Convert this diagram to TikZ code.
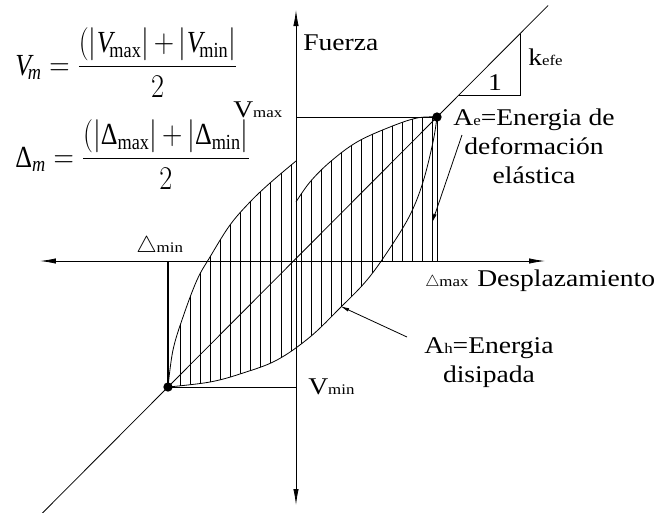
\documentclass[tikz,border=0pt]{standalone}
\usepackage{fontspec}
\usepackage{amsmath}
\usepackage{graphicx}
\setmainfont{Liberation Serif}
\newfontfamily\cadfont[FakeStretch=1.15]{Liberation Serif}
\usetikzlibrary{positioning, arrows.meta, calc}
\tikzset{
  ln/.style={line width=0.6pt},
  ax/.style={{Latex[length=12pt,width=4pt]}-{Latex[length=12pt,width=4pt]}, line width=0.6pt},
  lead/.style={-{Latex[length=7pt,width=2.6pt]}, line width=0.6pt},
  hatch/.style={line width=0.6pt},
  dot/.style={circle, fill, inner sep=0pt, minimum size=7pt},
  lbl/.style={font=\cadfont\fontsize{18}{21.75}\selectfont, inner sep=0pt},
  eq/.style={font=\fontsize{23}{27}\selectfont, inner sep=0pt}
}
\newcommand{\subtxt}[1]{{\fontsize{11}{11}\selectfont #1}}
\newcommand{\narrow}[1]{\scalebox{0.85}[1]{#1}}
% curve pieces of the loop (px units, origin at the axes)
\newcommand{\upperleft}{-- plot[smooth, tension=0.6] coordinates {(-128,-126) (-123,-89) (-113,-56) (-99,-19) (-86,4) (-66,36) (-46,59) (-26,78) (0,100)}}
\newcommand{\upperright}{-- plot[smooth, tension=0.6] coordinates {(0,59) (14,79) (34,99) (61,119) (94,134) (121,143) (141,144)}}
\newcommand{\lowercurve}{-- plot[smooth, tension=0.6] coordinates {(-128,-126) (-86,-121) (-53,-112) (-19,-99) (14,-76) (44,-47) (71,-19) (94,13) (114,46) (127,79) (137,119) (141,144)}}

\begin{document}
\begin{tikzpicture}[x=0.75pt, y=0.75pt]
  \useasboundingbox (-296,-251) rectangle (365,261);

  % ----- Key points -----
  \coordinate (O) at (0,0);
  \coordinate (pmin) at (-128,-126);
  \coordinate (pmax) at (141,144);
  \coordinate (vmaxft) at (0,144);
  \coordinate (vminft) at (0,-126);
  \coordinate (dminft) at (-128,0);
  \coordinate (dmaxft) at (141,0);

  % ----- Axes -----
  \coordinate (xl) at (-256,0);
  \coordinate (xr) at (249,0);
  \coordinate (yb) at (0,-244);
  \coordinate (yt) at (0,251);
  \draw[ax] (xl) -- (xr);
  \draw[ax] (yb) -- (yt);

  % ----- Hatching of the loop -----
  \begin{scope}
    \clip (-128,-200) \upperleft \upperright -- (141,-200) -- cycle;
    \begin{scope}
      \clip (-128,200) \lowercurve -- (141,200) -- cycle;
      \foreach \k in {0,...,25}
        \draw[hatch] ({-116+10.1*\k},-200) -- ++(0,400);
    \end{scope}
    \begin{scope}
      \clip (0,0) rectangle (141,200);
      \foreach \k in {0,...,25}
        \draw[hatch] ({-116+10.1*\k},-200) -- ++(0,400);
    \end{scope}
  \end{scope}

  % ----- Loop curves -----
  \draw[ln] (pmin) \upperleft;
  \draw[ln] (0,59) \upperright;
  \draw[ln] (pmin) \lowercurve;

  % ----- Secant (k_efe) -----
  \coordinate (dlo) at ($(pmin)!-0.476!(pmax)$);
  \coordinate (dhi) at ($(pmin)!1.413!(pmax)$);
  \draw[ln] (dlo) -- (dhi);

  % ----- Limits -----
  \draw[ln] (pmax) -- (vmaxft);
  \draw[ln] (pmax) -- (dmaxft);
  \draw[ln] (pmin) -- (vminft);
  \draw[line width=0.9pt] (pmin) -- (dminft);
  \node[dot] (dmax) at (pmax) {};
  \node[dot] (dmin) at (pmin) {};

  % ----- Slope triangle -----
  \coordinate (ka) at (163,166);
  \coordinate (kb) at (224,166);
  \coordinate (kc) at (224,227);
  \draw[ln] (ka) -- (kb) -- (kc);
  \node[lbl, anchor=base] (one) at (199,171) {1};
  \node[lbl, anchor=base west] (kefe) at (232,196) {k\subtxt{efe}};

  % ----- Axis labels -----
  \node[lbl, anchor=base west] (fuerza) at (7,211) {Fuerza};
  \node[lbl, anchor=base west] (desp) at (181,-25) {Desplazamiento};
  \node[lbl, anchor=base west] (vmax) at (-63,144) {V\subtxt{max}};
  \node[lbl, anchor=base west] (vmin) at (12,-133) {V\subtxt{min}};
  \node[lbl, anchor=base west] (dminlbl) at (-160,9) {$\triangle$\subtxt{min}};
  \node[lbl, anchor=base west] (dmaxlbl) at (129,-25)
    {{\fontsize{13}{13}\selectfont$\triangle$}\subtxt{max}};

  % ----- Energy labels -----
  \node[lbl, anchor=north, align=center] (ae) at (238,152)
    {A\subtxt{e}=Energia de\\deformación\\elástica};
  \node[lbl, anchor=north, align=center] (ah) at (193,-76)
    {A\subtxt{h}=Energia\\disipada};
  \coordinate (aefoot) at (166,126);
  \coordinate (aetip) at (136,38);
  \coordinate (ahfoot) at (111,-76);
  \coordinate (ahtip) at (44,-45);
  \draw[lead] (aefoot) -- (aetip);
  \draw[lead] (ahfoot) -- (ahtip);

  % ----- Formulas -----
  \node[eq, anchor=base west] (vm) at (-281,186)
    {\narrow{$\mathit{V}_{\!\mathit{m}} = \dfrac{(|\mathit{V}_{\!\mathrm{max}}|\,{+}\,|\mathit{V}_{\!\mathrm{min}}|}{2}$}};
  \node[eq, anchor=base west] (dm) at (-281,94)
    {\narrow{$\text{Δ}_{\mathit{m}} = \dfrac{(|\text{Δ}_{\mathrm{max}}|\,{+}\,|\text{Δ}_{\mathrm{min}}|}{2}$}};

\end{tikzpicture}
\end{document}
